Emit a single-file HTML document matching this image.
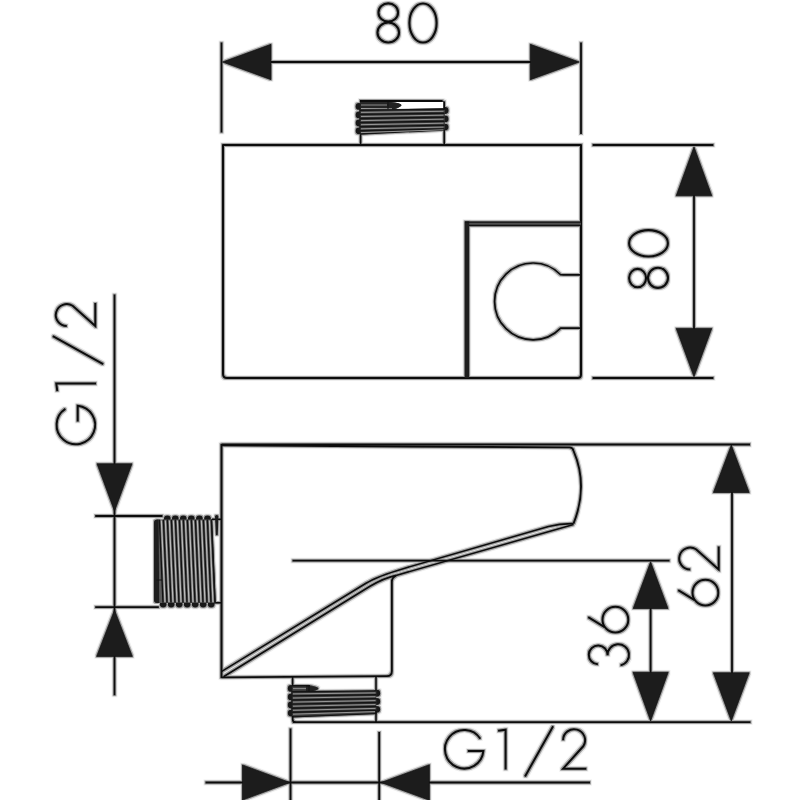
<!DOCTYPE html><html><head><meta charset="utf-8"><title>drawing</title><style>html,body{margin:0;padding:0;background:#fff;width:800px;height:800px;overflow:hidden}svg{display:block}</style></head><body>
<svg width="800" height="800" viewBox="0 0 800 800">
<rect width="800" height="800" fill="#fff"/>
<defs><filter id="d1" filterUnits="userSpaceOnUse" x="0" y="0" width="800" height="800"><feMorphology operator="dilate" radius="1"/></filter><filter id="d2" filterUnits="userSpaceOnUse" x="0" y="0" width="800" height="800"><feMorphology operator="dilate" radius="2"/></filter></defs>
<use href="#main" filter="url(#d2)" opacity="0.07"/>
<use href="#main" filter="url(#d1)" opacity="0.35"/>
<g id="main">
<g fill="none" stroke="#0c0c0c" stroke-width="2.1">
<ellipse cx="388.25" cy="12.5" rx="9.8" ry="9.1"/>
<ellipse cx="388.25" cy="32.5" rx="10.8" ry="10.0"/>
<ellipse cx="423" cy="23" rx="13.6" ry="19.5"/>
</g>
<line x1="221.5" y1="42.5" x2="221.5" y2="132.5" stroke="#0c0c0c" stroke-width="1.80" stroke-linecap="butt"/>
<line x1="581" y1="42.5" x2="581" y2="134" stroke="#0c0c0c" stroke-width="1.80" stroke-linecap="butt"/>
<line x1="225" y1="62" x2="576" y2="62" stroke="#0c0c0c" stroke-width="1.80" stroke-linecap="butt"/>
<polygon points="222.5,62 271.0,44.3 271.0,79.7" fill="#1c1c1c" stroke="#0e0e0e" stroke-width="0.7" stroke-linejoin="miter"/>
<polygon points="579.3,62 530.3,44.3 530.3,79.7" fill="#1c1c1c" stroke="#0e0e0e" stroke-width="0.7" stroke-linejoin="miter"/>
<path d="M223,145 L581,145 L581,374.5 Q581,378 577.5,378 L227,378 Q223,378 223,374 Z" stroke="#0c0c0c" stroke-width="2.00" fill="none" stroke-linejoin="round" />
<rect x="465.5" y="221.6" width="115.5" height="4.3" fill="#4e4e4e"/>
<rect x="464.6" y="221.4" width="4.6" height="156.6" fill="#1e1e1e"/>
<line x1="465" y1="222.1" x2="581" y2="222.1" stroke="#111" stroke-width="1.30" stroke-linecap="butt"/>
<line x1="469" y1="225.5" x2="581" y2="225.5" stroke="#111" stroke-width="1.30" stroke-linecap="butt"/>
<path d="M581,274.8 L563.5,274.8 Q561.5,274.8 560.62,274.73 A38.4,38.4 0 1 0 560.62,328.07 Q561.5,328.1 563.5,328.1 L581,328.1" stroke="#0c0c0c" stroke-width="1.70" fill="none" stroke-linejoin="round" />
<line x1="592.6" y1="145" x2="713.4" y2="145" stroke="#0c0c0c" stroke-width="1.80" stroke-linecap="butt"/>
<line x1="592.6" y1="378" x2="713.4" y2="378" stroke="#0c0c0c" stroke-width="1.80" stroke-linecap="butt"/>
<line x1="694" y1="150" x2="694" y2="374" stroke="#0c0c0c" stroke-width="1.80" stroke-linecap="butt"/>
<polygon points="694,146.8 676.2,195.8 711.8,195.8" fill="#1c1c1c" stroke="#0e0e0e" stroke-width="0.7" stroke-linejoin="miter"/>
<polygon points="694,376.8 676.2,328.40000000000003 711.8,328.40000000000003" fill="#1c1c1c" stroke="#0e0e0e" stroke-width="0.7" stroke-linejoin="miter"/>
<g fill="none" stroke="#0c0c0c" stroke-width="2.1">
<ellipse cx="648.5" cy="243.3" rx="19.4" ry="13.2"/>
<ellipse cx="637.6" cy="278.1" rx="8.5" ry="9.2"/>
<ellipse cx="658.0" cy="277.8" rx="10.0" ry="10.1"/>
</g>
<line x1="360.6" y1="131" x2="360.6" y2="145" stroke="#0c0c0c" stroke-width="1.60" stroke-linecap="butt"/>
<line x1="444.2" y1="128" x2="444.2" y2="145" stroke="#0c0c0c" stroke-width="1.60" stroke-linecap="butt"/>
<ellipse cx="359.0" cy="106.4" rx="3.4" ry="3.4" fill="#181818"/>
<ellipse cx="359.0" cy="114.9" rx="3.4" ry="3.4" fill="#181818"/>
<ellipse cx="359.0" cy="123.0" rx="3.4" ry="3.4" fill="#181818"/>
<ellipse cx="359.0" cy="130.8" rx="3.4" ry="3.4" fill="#181818"/>
<ellipse cx="445.1" cy="110.5" rx="3.4" ry="3.4" fill="#181818"/>
<ellipse cx="445.1" cy="118.9" rx="3.4" ry="3.4" fill="#181818"/>
<ellipse cx="445.1" cy="127.1" rx="3.4" ry="3.4" fill="#181818"/>
<path d="M359.8,100.4 L442.6,100.4 Q444.9,100.4 444.9,103 L444.9,130 L359.8,134.4 Z" fill="#3e3e3e"/>
<line x1="360" y1="101.0" x2="442.5" y2="101.0" stroke="#0c0c0c" stroke-width="1.80" stroke-linecap="butt"/>
<path d="M391,101.9 L443.2,101.9 L443.2,108.1 L395,109.1 Q401.8,106.2 401.2,105 Q400,102.6 391,101.9 Z" fill="#fff"/>
<path d="M389,102 Q401.8,103 401.6,105.2 Q401,107.4 393,109.3 L389,109.3 Z" fill="#222"/>
<line x1="361" y1="104.8" x2="386" y2="104.8" stroke="#8a8a8a" stroke-width="1.0" stroke-linecap="butt"/>
<rect x="360" y="102" width="29" height="7" fill="#262626"/>
<line x1="361" y1="105.0" x2="387" y2="105.0" stroke="#8a8a8a" stroke-width="1.0" stroke-linecap="butt"/>
<line x1="361" y1="108.6" x2="392" y2="108.8" stroke="#a6a6a6" stroke-width="1.0" stroke-linecap="butt"/>
<line x1="360" y1="110.2" x2="444.5" y2="109.2" stroke="#141414" stroke-width="1.4" stroke-linecap="butt"/>
<line x1="360" y1="114.4" x2="444.5" y2="113.2" stroke="#141414" stroke-width="1.4" stroke-linecap="butt"/>
<line x1="360" y1="118.5" x2="444.5" y2="117.2" stroke="#141414" stroke-width="1.4" stroke-linecap="butt"/>
<line x1="360" y1="122.6" x2="444.5" y2="121.2" stroke="#141414" stroke-width="1.4" stroke-linecap="butt"/>
<line x1="360" y1="126.8" x2="444.5" y2="125.2" stroke="#141414" stroke-width="1.4" stroke-linecap="butt"/>
<line x1="360" y1="130.8" x2="444.5" y2="129.0" stroke="#141414" stroke-width="1.4" stroke-linecap="butt"/>
<line x1="360" y1="134.0" x2="444.5" y2="130.0" stroke="#141414" stroke-width="1.4" stroke-linecap="butt"/>
<line x1="361" y1="112.4" x2="443.5" y2="111.3" stroke="#a2a2a2" stroke-width="0.9" stroke-linecap="butt"/>
<line x1="361" y1="116.5" x2="443.5" y2="115.2" stroke="#a2a2a2" stroke-width="0.9" stroke-linecap="butt"/>
<line x1="361" y1="120.6" x2="443.5" y2="119.2" stroke="#a2a2a2" stroke-width="0.9" stroke-linecap="butt"/>
<line x1="361" y1="124.7" x2="443.5" y2="123.2" stroke="#a2a2a2" stroke-width="0.9" stroke-linecap="butt"/>
<line x1="361" y1="128.8" x2="443.5" y2="127.1" stroke="#a2a2a2" stroke-width="0.9" stroke-linecap="butt"/>
<line x1="361" y1="132.6" x2="443.5" y2="129.8" stroke="#a2a2a2" stroke-width="0.9" stroke-linecap="butt"/>
<line x1="388" y1="102.0" x2="388" y2="109.0" stroke="#111" stroke-width="1.10" stroke-linecap="butt"/>
<line x1="359.8" y1="104" x2="359.8" y2="134" stroke="#1a1a1a" stroke-width="1.20" stroke-linecap="butt"/>
<line x1="444.3" y1="101.5" x2="444.3" y2="109.5" stroke="#0c0c0c" stroke-width="1.50" stroke-linecap="butt"/>
<line x1="292.6" y1="677" x2="292.6" y2="687" stroke="#0c0c0c" stroke-width="1.60" stroke-linecap="butt"/>
<line x1="376" y1="677" x2="376" y2="691" stroke="#0c0c0c" stroke-width="1.60" stroke-linecap="butt"/>
<ellipse cx="291.2" cy="688.4" rx="3.4" ry="3.4" fill="#181818"/>
<ellipse cx="291.2" cy="696.9" rx="3.4" ry="3.4" fill="#181818"/>
<ellipse cx="291.2" cy="705.0" rx="3.4" ry="3.4" fill="#181818"/>
<ellipse cx="291.2" cy="713.1" rx="3.4" ry="3.4" fill="#181818"/>
<ellipse cx="376.8" cy="693.25" rx="3.4" ry="3.4" fill="#181818"/>
<ellipse cx="376.8" cy="701.5" rx="3.4" ry="3.4" fill="#181818"/>
<ellipse cx="376.8" cy="709.3" rx="3.4" ry="3.4" fill="#181818"/>
<path d="M291.8,685.3 L311,685.3 Q318.5,687.2 318.5,688.4 Q317,690.6 311,691.6 L376.4,690.6 L376.4,713.8 L291.8,717.4 Z" fill="#3e3e3e"/>
<path d="M306,685.4 Q318.6,686.6 318.4,688.4 Q317.6,690.4 309,691.7 L306,691.7 Z" fill="#222"/>
<line x1="292" y1="685.8" x2="310" y2="685.8" stroke="#0c0c0c" stroke-width="1.40" stroke-linecap="butt"/>
<line x1="293" y1="688.6" x2="306" y2="688.6" stroke="#8a8a8a" stroke-width="1.0" stroke-linecap="butt"/>
<line x1="291.8" y1="691.8" x2="376.4" y2="690.9" stroke="#141414" stroke-width="1.4" stroke-linecap="butt"/>
<line x1="291.8" y1="695.9" x2="376.4" y2="694.8" stroke="#141414" stroke-width="1.4" stroke-linecap="butt"/>
<line x1="291.8" y1="700.0" x2="376.4" y2="698.6" stroke="#141414" stroke-width="1.4" stroke-linecap="butt"/>
<line x1="291.8" y1="704.1" x2="376.4" y2="702.5" stroke="#141414" stroke-width="1.4" stroke-linecap="butt"/>
<line x1="291.8" y1="708.2" x2="376.4" y2="706.5" stroke="#141414" stroke-width="1.4" stroke-linecap="butt"/>
<line x1="291.8" y1="712.3" x2="376.4" y2="710.4" stroke="#141414" stroke-width="1.4" stroke-linecap="butt"/>
<line x1="291.8" y1="716.9" x2="376.4" y2="713.6" stroke="#141414" stroke-width="1.4" stroke-linecap="butt"/>
<line x1="293" y1="693.9" x2="375.5" y2="692.9" stroke="#a2a2a2" stroke-width="0.9" stroke-linecap="butt"/>
<line x1="293" y1="698.0" x2="375.5" y2="696.7" stroke="#a2a2a2" stroke-width="0.9" stroke-linecap="butt"/>
<line x1="293" y1="702.1" x2="375.5" y2="700.6" stroke="#a2a2a2" stroke-width="0.9" stroke-linecap="butt"/>
<line x1="293" y1="706.2" x2="375.5" y2="704.5" stroke="#a2a2a2" stroke-width="0.9" stroke-linecap="butt"/>
<line x1="293" y1="710.3" x2="375.5" y2="708.4" stroke="#a2a2a2" stroke-width="0.9" stroke-linecap="butt"/>
<line x1="293" y1="714.2" x2="375.5" y2="711.6" stroke="#a2a2a2" stroke-width="0.9" stroke-linecap="butt"/>
<line x1="309" y1="685.6" x2="309" y2="691.4" stroke="#111" stroke-width="1.10" stroke-linecap="butt"/>
<line x1="291.8" y1="686" x2="291.8" y2="716" stroke="#1a1a1a" stroke-width="1.20" stroke-linecap="butt"/>
<path d="M292.7,716 L292.7,719.5 Q292.7,722 295.5,722" stroke="#0c0c0c" stroke-width="1.70" fill="none" stroke-linejoin="round" />
<line x1="376" y1="711" x2="376" y2="722" stroke="#0c0c0c" stroke-width="1.60" stroke-linecap="butt"/>
<line x1="212" y1="519.3" x2="221.5" y2="519.3" stroke="#0c0c0c" stroke-width="1.60" stroke-linecap="butt"/>
<line x1="214" y1="602.8" x2="221.5" y2="602.8" stroke="#0c0c0c" stroke-width="1.60" stroke-linecap="butt"/>
<ellipse cx="167.3" cy="518.9" rx="3.4" ry="3.4" fill="#181818"/>
<ellipse cx="175.3" cy="518.9" rx="3.4" ry="3.4" fill="#181818"/>
<ellipse cx="183.3" cy="518.9" rx="3.4" ry="3.4" fill="#181818"/>
<ellipse cx="191.3" cy="518.9" rx="3.4" ry="3.4" fill="#181818"/>
<ellipse cx="199.4" cy="518.9" rx="3.4" ry="3.4" fill="#181818"/>
<ellipse cx="207.5" cy="518.9" rx="3.4" ry="3.4" fill="#181818"/>
<ellipse cx="163.2" cy="604.1" rx="3.4" ry="3.4" fill="#181818"/>
<ellipse cx="171.2" cy="604.1" rx="3.4" ry="3.4" fill="#181818"/>
<ellipse cx="179.2" cy="604.1" rx="3.4" ry="3.4" fill="#181818"/>
<ellipse cx="187.2" cy="604.1" rx="3.4" ry="3.4" fill="#181818"/>
<ellipse cx="195.2" cy="604.1" rx="3.4" ry="3.4" fill="#181818"/>
<ellipse cx="203.2" cy="604.1" rx="3.4" ry="3.4" fill="#181818"/>
<ellipse cx="211.2" cy="604.1" rx="3.4" ry="3.4" fill="#181818"/>
<path d="M154,522.5 Q154,519.4 157.5,519.4 L211.6,519.4 L215.2,603 L157,603 Q154,603 154,600 Z" fill="#5c5c5c"/>
<path d="M154,522.5 Q154,519.4 157.5,519.4 L158.6,519.4 L159.2,603 L157,603 Q154,603 154,600 Z" fill="#1e1e1e"/>
<line x1="159.4" y1="519.6" x2="163.0" y2="602.8" stroke="#121212" stroke-width="1.35" stroke-linecap="butt"/>
<line x1="163.4" y1="519.6" x2="167.0" y2="602.8" stroke="#121212" stroke-width="1.35" stroke-linecap="butt"/>
<line x1="167.4" y1="519.6" x2="171.0" y2="602.8" stroke="#121212" stroke-width="1.35" stroke-linecap="butt"/>
<line x1="171.4" y1="519.6" x2="175.0" y2="602.8" stroke="#121212" stroke-width="1.35" stroke-linecap="butt"/>
<line x1="175.4" y1="519.6" x2="179.0" y2="602.8" stroke="#121212" stroke-width="1.35" stroke-linecap="butt"/>
<line x1="179.4" y1="519.6" x2="183.0" y2="602.8" stroke="#121212" stroke-width="1.35" stroke-linecap="butt"/>
<line x1="183.4" y1="519.6" x2="187.0" y2="602.8" stroke="#121212" stroke-width="1.35" stroke-linecap="butt"/>
<line x1="187.4" y1="519.6" x2="191.0" y2="602.8" stroke="#121212" stroke-width="1.35" stroke-linecap="butt"/>
<line x1="191.4" y1="519.6" x2="195.0" y2="602.8" stroke="#121212" stroke-width="1.35" stroke-linecap="butt"/>
<line x1="195.4" y1="519.6" x2="199.0" y2="602.8" stroke="#121212" stroke-width="1.35" stroke-linecap="butt"/>
<line x1="199.4" y1="519.6" x2="203.0" y2="602.8" stroke="#121212" stroke-width="1.35" stroke-linecap="butt"/>
<line x1="203.4" y1="519.6" x2="207.0" y2="602.8" stroke="#121212" stroke-width="1.35" stroke-linecap="butt"/>
<line x1="207.4" y1="519.6" x2="211.0" y2="602.8" stroke="#121212" stroke-width="1.35" stroke-linecap="butt"/>
<line x1="211.4" y1="519.6" x2="215.0" y2="602.8" stroke="#121212" stroke-width="1.35" stroke-linecap="butt"/>
<line x1="161.4" y1="520.5" x2="165.0" y2="602" stroke="#bababa" stroke-width="1.25" stroke-linecap="butt"/>
<line x1="165.4" y1="520.5" x2="169.0" y2="602" stroke="#bababa" stroke-width="1.25" stroke-linecap="butt"/>
<line x1="169.4" y1="520.5" x2="173.0" y2="602" stroke="#bababa" stroke-width="1.25" stroke-linecap="butt"/>
<line x1="173.4" y1="520.5" x2="177.0" y2="602" stroke="#bababa" stroke-width="1.25" stroke-linecap="butt"/>
<line x1="177.4" y1="520.5" x2="181.0" y2="602" stroke="#bababa" stroke-width="1.25" stroke-linecap="butt"/>
<line x1="181.4" y1="520.5" x2="185.0" y2="602" stroke="#bababa" stroke-width="1.25" stroke-linecap="butt"/>
<line x1="185.4" y1="520.5" x2="189.0" y2="602" stroke="#bababa" stroke-width="1.25" stroke-linecap="butt"/>
<line x1="189.4" y1="520.5" x2="193.0" y2="602" stroke="#bababa" stroke-width="1.25" stroke-linecap="butt"/>
<line x1="193.4" y1="520.5" x2="197.0" y2="602" stroke="#bababa" stroke-width="1.25" stroke-linecap="butt"/>
<line x1="197.4" y1="520.5" x2="201.0" y2="602" stroke="#bababa" stroke-width="1.25" stroke-linecap="butt"/>
<line x1="201.4" y1="520.5" x2="205.0" y2="602" stroke="#bababa" stroke-width="1.25" stroke-linecap="butt"/>
<line x1="205.4" y1="520.5" x2="209.0" y2="602" stroke="#bababa" stroke-width="1.25" stroke-linecap="butt"/>
<line x1="209.4" y1="520.5" x2="213.0" y2="602" stroke="#bababa" stroke-width="1.25" stroke-linecap="butt"/>
<line x1="156.5" y1="580" x2="162" y2="580" stroke="#111" stroke-width="1.00" stroke-linecap="butt"/>
<line x1="211.6" y1="519.4" x2="215.2" y2="603" stroke="#151515" stroke-width="1.30" stroke-linecap="butt"/>
<path d="M215.0,516.0 Q216.7,514.2 218.4,516.0 L217.8,534.5 Q216.8,536.2 215.8,534.5 Z" fill="#1a1a1a"/>
<line x1="221.5" y1="444.5" x2="750" y2="444.5" stroke="#0c0c0c" stroke-width="1.80" stroke-linecap="butt"/>
<path d="M221.5,445.3 L569.5,447.4 Q573,447.6 573.6,451 Q588.5,486 573.5,523.6" stroke="#0c0c0c" stroke-width="1.90" fill="none" stroke-linejoin="round" />
<line x1="221.5" y1="444" x2="221.5" y2="678" stroke="#0c0c0c" stroke-width="2.00" stroke-linecap="butt"/>
<path d="M221.8,671.4 L366,583.2 Q377.3,576.3 404,568.4 L548.5,526.4 Q560,523.4 573.5,523.6" stroke="#0c0c0c" stroke-width="1.60" fill="none" stroke-linejoin="round" />
<path d="M223.5,676.8 L370,586.3 Q384,578 396,575.4 L573.5,524.5" stroke="#0c0c0c" stroke-width="1.60" fill="none" stroke-linejoin="round" />
<path d="M391.9,581.5 Q392,577.5 396,575.6 M391.9,580 L391.9,671 Q391.9,676.1 386.8,676.1 L221.5,677.4" stroke="#0c0c0c" stroke-width="1.80" fill="none" stroke-linejoin="round" />
<line x1="292.5" y1="560.6" x2="669.5" y2="560.6" stroke="#0c0c0c" stroke-width="1.80" stroke-linecap="butt"/>
<line x1="650.6" y1="566" x2="650.6" y2="717" stroke="#0c0c0c" stroke-width="1.80" stroke-linecap="butt"/>
<line x1="732" y1="449" x2="732" y2="717" stroke="#0c0c0c" stroke-width="1.80" stroke-linecap="butt"/>
<polygon points="650.6,561.8 633.2,608.5 668.0,608.5" fill="#1c1c1c" stroke="#0e0e0e" stroke-width="0.7" stroke-linejoin="miter"/>
<polygon points="650.6,721 633.0,672.3 668.2,672.3" fill="#1c1c1c" stroke="#0e0e0e" stroke-width="0.7" stroke-linejoin="miter"/>
<polygon points="731.3,445 713.4,492.5 749.1999999999999,492.5" fill="#1c1c1c" stroke="#0e0e0e" stroke-width="0.7" stroke-linejoin="miter"/>
<polygon points="731.3,721 713.4,672.8 749.1999999999999,672.8" fill="#1c1c1c" stroke="#0e0e0e" stroke-width="0.7" stroke-linejoin="miter"/>
<line x1="292.75" y1="722.1" x2="750.5" y2="722.1" stroke="#0c0c0c" stroke-width="1.80" stroke-linecap="butt"/>
<g transform="translate(719.6,607.2) rotate(-90)" fill="none" stroke="#0c0c0c" stroke-width="2.0" stroke-linecap="butt" stroke-linejoin="miter">
<path d="M1.60,-14.20 A12.9,12.9 0 1 0 27.40,-14.20 A12.9,12.9 0 1 0 1.60,-14.20"/>
<path d="M17.10,-41.4 L7.10,-25.0"/>
<path d="M37.60,-29.40 A11.0,11.0 0 1 1 57.93,-23.57 L37.60,-0.9 L60.80,-0.9"/>
</g>
<g transform="translate(629.6,666.2) rotate(-90)" fill="none" stroke="#0c0c0c" stroke-width="2.0" stroke-linecap="butt" stroke-linejoin="miter">
<path d="M1.91,-31.73 A9.4,9.4 0 1 1 10.97,-22.01 M10.93,-21.99 A10.7,10.7 0 1 1 0.83,-9.08"/>
<path d="M33.60,-14.20 A12.9,12.9 0 1 0 59.40,-14.20 A12.9,12.9 0 1 0 33.60,-14.20"/>
<path d="M49.10,-41.4 L39.10,-25.0"/>
</g>
<line x1="114.5" y1="294.4" x2="114.5" y2="695.2" stroke="#0c0c0c" stroke-width="1.80" stroke-linecap="butt"/>
<line x1="95.2" y1="516.0" x2="162.5" y2="516.0" stroke="#0c0c0c" stroke-width="1.80" stroke-linecap="butt"/>
<line x1="95.2" y1="607.2" x2="158.8" y2="607.2" stroke="#0c0c0c" stroke-width="1.80" stroke-linecap="butt"/>
<polygon points="114.5,511.2 97.0,463.8 132.0,463.8" fill="#1c1c1c" stroke="#0e0e0e" stroke-width="0.7" stroke-linejoin="miter"/>
<polygon points="114.5,610.0 96.6,656.4 132.4,656.4" fill="#1c1c1c" stroke="#0e0e0e" stroke-width="0.7" stroke-linejoin="miter"/>
<g transform="translate(96.2,445.2) rotate(-90)" fill="none" stroke="#0c0c0c" stroke-width="2.0" stroke-linecap="butt" stroke-linejoin="miter">
<path d="M36.34,-30.83 A19.25,19.25 0 1 0 39.36,-18.50 L23.80,-18.50"/>
<path d="M54.10,-38.9 L61.60,-39.9 L61.60,-0.2"/>
<path d="M81.00,7 L109.10,-43.4"/>
<path d="M119.10,-29.40 A11.0,11.0 0 1 1 139.43,-23.57 L119.10,-0.9 L142.30,-0.9"/>
</g>
<line x1="290.5" y1="728.5" x2="290.5" y2="800" stroke="#0c0c0c" stroke-width="1.80" stroke-linecap="butt"/>
<line x1="379.2" y1="732" x2="379.2" y2="800" stroke="#0c0c0c" stroke-width="1.80" stroke-linecap="butt"/>
<line x1="205.5" y1="782.5" x2="590" y2="782.5" stroke="#0c0c0c" stroke-width="1.80" stroke-linecap="butt"/>
<polygon points="290.0,782.5 242.5,764.9 242.5,800.1" fill="#1c1c1c" stroke="#0e0e0e" stroke-width="0.7" stroke-linejoin="miter"/>
<polygon points="381.0,782.5 429.4,764.7 429.4,800.3" fill="#1c1c1c" stroke="#0e0e0e" stroke-width="0.7" stroke-linejoin="miter"/>
<g transform="translate(444,769.6)" fill="none" stroke="#0c0c0c" stroke-width="2.0" stroke-linecap="butt" stroke-linejoin="miter">
<path d="M36.34,-30.83 A19.25,19.25 0 1 0 39.36,-18.50 L23.80,-18.50"/>
<path d="M54.10,-38.9 L61.60,-39.9 L61.60,-0.2"/>
<path d="M81.00,7 L109.10,-43.4"/>
<path d="M119.10,-29.40 A11.0,11.0 0 1 1 139.43,-23.57 L119.10,-0.9 L142.30,-0.9"/>
</g>
</g></svg></body></html>
